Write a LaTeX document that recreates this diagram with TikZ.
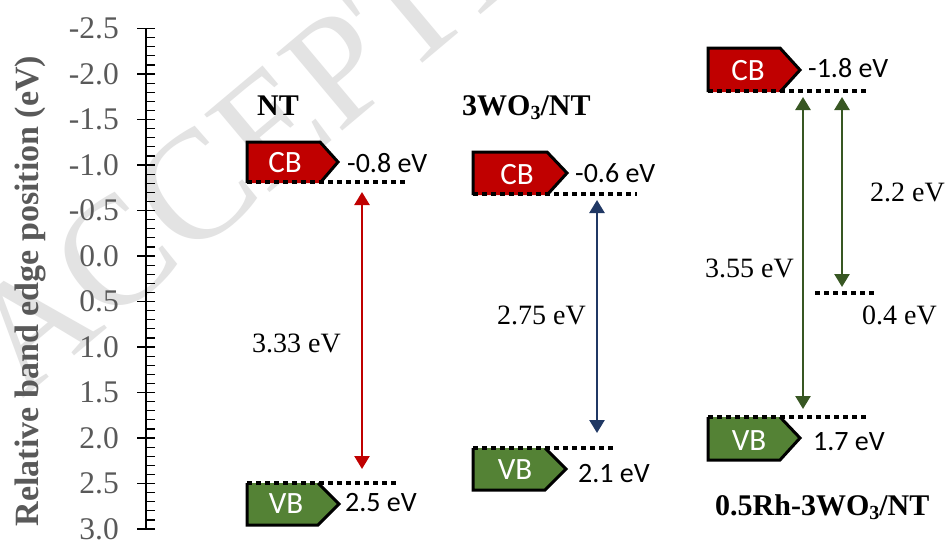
\documentclass[tikz,border=0pt]{standalone}
\usepackage{fontspec}
\setmainfont{Liberation Serif}
\newfontfamily\calfont{Carlito}
\usetikzlibrary{arrows.meta}
\definecolor{cbred}{HTML}{C00000}
\definecolor{vbgreen}{HTML}{548235}
\definecolor{agreen}{HTML}{385723}
\definecolor{ablue}{HTML}{203864}
\definecolor{axgrey}{HTML}{595959}
\begin{document}
\begin{tikzpicture}[x=1pt,y=-1pt,
  bandout/.style={line width=3pt, line join=miter},
  level/.style={line width=3.5pt, dash pattern=on 4.5pt off 4.5pt},
  boxtxt/.style={text=white, font=\calfont\fontsize{31}{31}\selectfont, inner sep=0},
  valtxt/.style={anchor=west, font=\calfont\fontsize{28}{28}\selectfont, inner sep=0},
  gaptxt/.style={anchor=west, font=\fontsize{28}{28}\selectfont, inner sep=0},
  ttl/.style={anchor=base west, font=\bfseries\fontsize{30}{30}\selectfont, inner sep=0},
  gap/.style={line width=2.5pt, {Triangle[width=15pt,length=13pt]}-{Triangle[width=15pt,length=13pt]}},
  ticklbl/.style={anchor=east, text=axgrey, font=\fontsize{31.5}{31.5}\selectfont, inner sep=0},
]
\useasboundingbox (0,0) rectangle (945,546);
\fill[white] (0,0) rectangle (945,546);
% watermark
\begin{scope}
\clip (0,0) rectangle (945,546);
\node[anchor=base west, rotate=40, text=black!11, font=\fontsize{155}{155}\selectfont, inner sep=0] (wm) at (22,400) {ACCEPTED MANUSCRIPT};
\end{scope}
% axis
\draw[line width=2pt] (146,28.5) -- (146,529);
\foreach \j in {0,...,55} \draw[line width=1.2pt] (146,28.5+9.1*\j) -- (155,28.5+9.1*\j);
\foreach \lab [count=\i from 0] in {-2.5,-2.0,-1.5,-1.0,-0.5,0.0,0.5,1.0,1.5,2.0,2.5,3.0} {
  \draw[line width=1.5pt] (137,28.5+45.5*\i) -- (155,28.5+45.5*\i);
  \node[ticklbl] (t\i) at (119,28.5+45.5*\i) {\lab};
}
\node[rotate=90, anchor=base, text=axgrey, font=\bfseries\fontsize{34}{34}\selectfont, inner sep=0] (ytitle) at (38,291) {Relative band edge position (eV)};
% titles
\node[ttl] (tnt) at (257,115) {NT};
\node[ttl] (two) at (462,115) {3WO\raisebox{-0.35ex}{\fontsize{20}{20}\selectfont 3}/NT};
\node[ttl] (trh) at (715,515) {0.5Rh-3WO\raisebox{-0.35ex}{\fontsize{20}{20}\selectfont 3}/NT};
% NT
\fill[cbred] (247,142) -- (320,142) -- (338,162) -- (320,183) -- (247,183) -- cycle;
\draw[bandout] (247,183) -- (247,142) -- (320,142) -- (338,162) -- (320,183);
\draw[level] (247,182) -- (405,182);
\node[boxtxt] (ntcb) at (285,163) {CB};
\node[valtxt] (ntcbv) at (347,163) {-0.8 eV};
\fill[vbgreen] (247,483) -- (318,483) -- (339,504) -- (318,525) -- (247,525) -- cycle;
\draw[bandout] (247,483) -- (247,525) -- (318,525) -- (339,504) -- (318,483);
\draw[level] (247,483) -- (397,483);
\node[boxtxt] (ntvb) at (286,504) {VB};
\node[valtxt] (ntvbv) at (345,503) {2.5 eV};
\coordinate (ntc) at (362,192);
\coordinate (ntv) at (362,469);
\draw[gap, cbred] (ntc) -- (ntv);
\node[gaptxt] (ntg) at (252,343) {3.33 eV};
% 3WO3/NT
\fill[cbred] (473,152) -- (547,152) -- (567,173) -- (547,195) -- (473,195) -- cycle;
\draw[bandout] (473,195) -- (473,152) -- (547,152) -- (567,173) -- (547,195);
\draw[level] (473,194) -- (637,194);
\node[boxtxt] (wocb) at (517,175) {CB};
\node[valtxt] (wocbv) at (575,173) {-0.6 eV};
\fill[vbgreen] (473,448) -- (545,448) -- (566,469) -- (545,490) -- (473,490) -- cycle;
\draw[bandout] (473,448) -- (473,490) -- (545,490) -- (566,469) -- (545,448);
\draw[level] (473,448) -- (613,448);
\node[boxtxt] (wovb) at (515,470) {VB};
\node[valtxt] (wovbv) at (578,474) {2.1 eV};
\coordinate (woc) at (597,200);
\coordinate (wov) at (597,433);
\draw[gap, ablue] (woc) -- (wov);
\node[gaptxt] (wog) at (497,315) {2.75 eV};
% 0.5Rh-3WO3/NT
\fill[cbred] (708,48) -- (780,48) -- (800,70) -- (780,92) -- (708,92) -- cycle;
\draw[bandout] (708,92) -- (708,48) -- (780,48) -- (800,70) -- (780,92);
\draw[level] (708,91) -- (868,91);
\node[boxtxt] (rhcb) at (748,71) {CB};
\node[valtxt] (rhcbv) at (808,68) {-1.8 eV};
\fill[vbgreen] (708,417) -- (780,417) -- (800,438) -- (780,460) -- (708,460) -- cycle;
\draw[bandout] (708,417) -- (708,460) -- (780,460) -- (800,438) -- (780,417);
\draw[level] (708,417) -- (868,417);
\node[boxtxt] (rhvb) at (749,441) {VB};
\node[valtxt] (rhvbv) at (813,442) {1.7 eV};
\draw[level] (815,293) -- (875,293);
\coordinate (rhc1) at (803,97);
\coordinate (rhv1) at (803,409);
\coordinate (rhc2) at (842,97);
\coordinate (rhm) at (842,287);
\draw[gap, agreen] (rhc1) -- (rhv1);
\draw[gap, agreen] (rhc2) -- (rhm);
\node[gaptxt] (rhg1) at (705,268) {3.55 eV};
\node[gaptxt] (rhg2) at (870,192) {2.2 eV};
\node[gaptxt] (rhg3) at (862,315) {0.4 eV};
\end{tikzpicture}
\end{document}
